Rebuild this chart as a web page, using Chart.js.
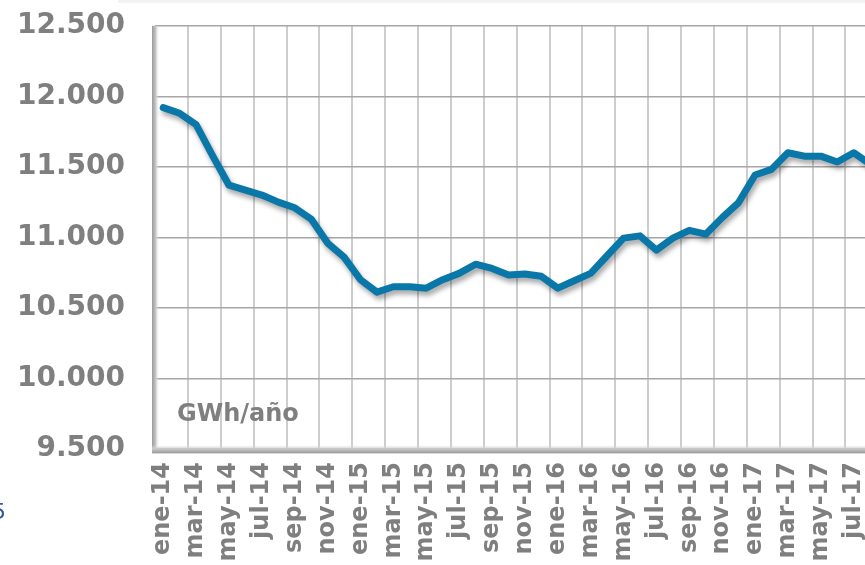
<!DOCTYPE html>
<html>
<head>
<meta charset="utf-8">
<script src="https://cdn.jsdelivr.net/npm/chart.js@4.4.1/dist/chart.umd.min.js"></script>
<style>
    html, body { margin: 0; padding: 0; background: #fff; overflow: hidden; }
    .wrap { position: relative; width: 865px; height: 565px; overflow: hidden; }
    .topband { position: absolute; left: 118px; top: 0; width: 760px; height: 3px; background: #f2f2f2; }
    .chart-container { position: absolute; left: 0; top: -21px; width: 912px; height: 621px; }
</style>
</head>
<body>
<div class="wrap">
    <div class="chart-container">
        <canvas id="myChart" width="912" height="621"></canvas>
    </div>
    <div class="topband"></div>
</div>
<script>
const months = ['ene', 'feb', 'mar', 'abr', 'may', 'jun', 'jul', 'ago', 'sep', 'oct', 'nov', 'dic'];
const years = ['14', '15', '16', '17'];

// ene-14 .. ago-17
const labels = [];
years.forEach(function (y) {
    months.forEach(function (m) {
        labels.push(m + '-' + y);
    });
});
labels.length = 44;

// GWh/año
const demanda = [
    11920, 11880, 11800, 11580, 11370, 11335, 11300, 11250, 11210, 11130, 10960, 10860,
    10700, 10612, 10650, 10650, 10640, 10700, 10745, 10810, 10780, 10733, 10740, 10724,
    10640, 10693, 10745, 10870, 10995, 11011, 10910, 10995, 11050, 11023, 11140, 11247,
    11442, 11482, 11600, 11576, 11576, 11534, 11600, 11520
];

const yTicks = [9500, 10000, 10500, 11000, 11500, 12000, 12500];

const ctx = document.getElementById('myChart');
const gris = '#7f7f7f';

const decoPlugin = {
    id: 'deco',
    beforeDatasetsDraw: function (chart) {
        const c = chart.ctx;
        const a = chart.chartArea;
        c.save();
        // pared izquierda
        let g = c.createLinearGradient(a.left - 3, 0, a.left + 4, 0);
        g.addColorStop(0, '#9a9a9a');
        g.addColorStop(0.5, '#c4c4c4');
        g.addColorStop(1, 'rgba(230,230,230,0)');
        c.fillStyle = g;
        c.fillRect(a.left - 3, a.top, 7, a.bottom - a.top + 3);
        // suelo
        g = c.createLinearGradient(0, a.bottom - 4, 0, a.bottom + 4);
        g.addColorStop(0, 'rgba(230,230,230,0)');
        g.addColorStop(0.5, '#c8c8c8');
        g.addColorStop(1, '#9a9a9a');
        c.fillStyle = g;
        c.fillRect(a.left - 3, a.bottom - 4, a.right - a.left + 3, 8);
        c.fillStyle = '#d8d8d8';
        c.fillRect(a.left - 3, a.bottom + 4, a.right - a.left + 3, 1);
        // unidad
        c.fillStyle = gris;
        c.font = 'bold 24px "DejaVu Sans"';
        c.textBaseline = 'alphabetic';
        c.fillText('GWh/año', a.left + 22, a.bottom - 28);
        // texto cortado a la izquierda
        c.fillStyle = '#2e5a9a';
        c.font = '22px "DejaVu Sans"';
        c.fillText('5', -8, a.bottom + 70);
        c.restore();
        // sombra de la linea
        c.save();
        c.shadowColor = 'rgba(0,0,0,0.35)';
        c.shadowBlur = 5;
        c.shadowOffsetX = 2;
        c.shadowOffsetY = 4;
    },
    afterDatasetsDraw: function (chart) {
        chart.ctx.restore();
    }
};

const demandaChart = new Chart(ctx, {
    type: 'line',
    data: {
        labels: labels,
        datasets: [{
            label: 'Demanda',
            data: demanda,
            borderColor: '#0a77a9',
            borderWidth: 7,
            pointRadius: 0,
            fill: false,
            tension: 0,
            borderJoinStyle: 'round',
            borderCapStyle: 'round'
        }]
    },
    options: {
        responsive: false,
        animation: false,
        layout: {
            padding: { top: 3, right: 6, left: 0, bottom: 0 }
        },
        plugins: {
            legend: { display: false },
            tooltip: { enabled: false }
        },
        scales: {
            x: {
                type: 'category',
                offset: true,
                border: { display: false },
                grid: {
                    offset: true,
                    drawTicks: false,
                    lineWidth: 2,
                    color: function (c) {
                        return (c.index % 2 === 0 && c.index > 0) ? '#cdcdcd' : 'rgba(0,0,0,0)';
                    }
                },
                ticks: {
                    autoSkip: false,
                    maxRotation: 90,
                    minRotation: 90,
                    padding: 13,
                    color: gris,
                    font: { family: 'DejaVu Sans', size: 24, weight: 'bold' },
                    callback: function (v, i) {
                        return i % 2 === 0 ? labels[i] : '';
                    }
                },
                afterFit: function (scale) {
                    scale.height = 151;
                }
            },
            y: {
                min: 9500,
                max: 12500,
                border: { display: false },
                afterBuildTicks: function (scale) {
                    scale.ticks = yTicks.map(function (v) { return { value: v }; });
                },
                grid: {
                    drawTicks: false,
                    lineWidth: 1.5,
                    color: '#a6a6a6'
                },
                ticks: {
                    padding: 30,
                    color: gris,
                    font: { family: 'DejaVu Sans', size: 28, weight: 'bold' },
                    callback: function (v) {
                        return v.toLocaleString('es-ES').replace(',', '.').replace(/(\d)(\d{3})$/, '$1.$2');
                    }
                },
                afterFit: function (scale) {
                    scale.width = 155;
                }
            }
        }
    },
    plugins: [decoPlugin]
});
</script>
</body>
</html>
